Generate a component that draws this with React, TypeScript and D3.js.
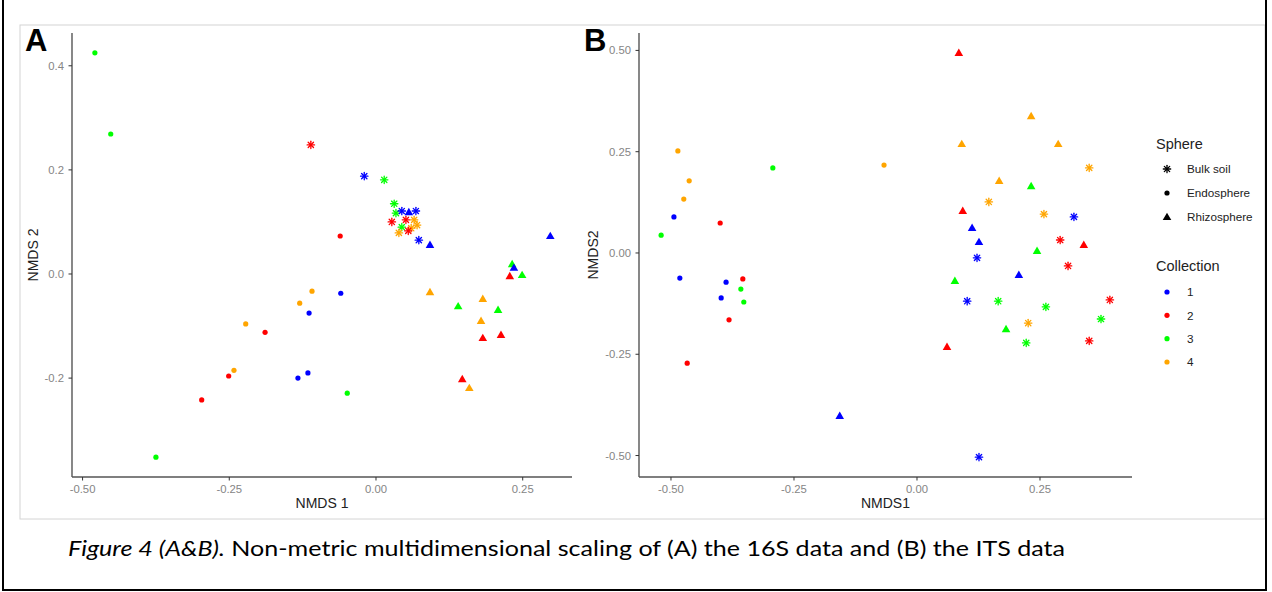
import React from 'react';
import * as d3 from 'd3';

const COLLECTIONS = ['1', '2', '3', '4'];
const COLORS = ['#0000FF', '#FF0000', '#00FF00', '#FFA500'];
const SPHERES = ['Bulk soil', 'Endosphere', 'Rhizosphere'];

// [NMDS1, NMDS2, collection index]
const A_BULK: [number, number, number][] = [
  [-0.111, 0.248, 1], [-0.02, 0.188, 0], [0.014, 0.181, 2], [0.031, 0.135, 2],
  [0.034, 0.117, 2], [0.044, 0.121, 0], [0.068, 0.121, 0], [0.027, 0.1, 1],
  [0.051, 0.104, 1], [0.065, 0.104, 3], [0.07, 0.094, 3], [0.044, 0.09, 2],
  [0.06, 0.088, 3], [0.055, 0.083, 1], [0.039, 0.079, 3], [0.073, 0.065, 0],
];
const A_ENDO: [number, number, number][] = [
  [-0.479, 0.425, 2], [-0.452, 0.269, 2], [-0.375, -0.352, 2], [-0.049, -0.229, 2],
  [-0.189, -0.112, 1], [-0.251, -0.196, 1], [-0.297, -0.242, 1], [-0.061, 0.073, 1],
  [-0.222, -0.096, 3], [-0.242, -0.185, 3], [-0.109, -0.033, 3], [-0.13, -0.056, 3],
  [-0.06, -0.037, 0], [-0.114, -0.075, 0], [-0.116, -0.19, 0], [-0.133, -0.2, 0],
];
const A_RHIZO: [number, number, number][] = [
  [0.056, 0.119, 0], [0.092, 0.056, 0], [0.297, 0.073, 0], [0.232, 0.019, 2],
  [0.235, 0.012, 0], [0.228, -0.004, 1], [0.249, -0.002, 2], [0.092, -0.035, 3],
  [0.182, -0.048, 3], [0.14, -0.062, 2], [0.208, -0.069, 2], [0.179, -0.09, 3],
  [0.182, -0.123, 1], [0.213, -0.117, 1], [0.147, -0.202, 1], [0.159, -0.219, 3],
];

const B_BULK: [number, number, number][] = [
  [0.35, 0.21, 3], [0.146, 0.126, 3], [0.258, 0.096, 3], [0.319, 0.089, 0],
  [0.291, 0.032, 1], [0.122, -0.012, 0], [0.307, -0.032, 1], [0.102, -0.119, 0],
  [0.165, -0.119, 2], [0.262, -0.133, 2], [0.392, -0.116, 1], [0.374, -0.163, 2],
  [0.226, -0.173, 3], [0.222, -0.222, 2], [0.35, -0.217, 1], [0.126, -0.504, 0],
];
const B_ENDO: [number, number, number][] = [
  [-0.486, 0.252, 3], [-0.293, 0.21, 2], [-0.067, 0.217, 3], [-0.463, 0.178, 3],
  [-0.474, 0.133, 3], [-0.494, 0.089, 0], [-0.52, 0.044, 2], [-0.4, 0.074, 1],
  [-0.482, -0.062, 0], [-0.388, -0.072, 0], [-0.354, -0.064, 1], [-0.358, -0.089, 2],
  [-0.398, -0.111, 0], [-0.352, -0.121, 2], [-0.382, -0.165, 1], [-0.467, -0.272, 1],
];
const B_RHIZO: [number, number, number][] = [
  [-0.157, -0.402, 0], [0.085, 0.494, 1], [0.232, 0.338, 3], [0.091, 0.269, 3],
  [0.287, 0.269, 3], [0.167, 0.178, 3], [0.232, 0.165, 2], [0.093, 0.104, 1],
  [0.112, 0.062, 0], [0.126, 0.027, 0], [0.339, 0.02, 1], [0.244, 0.005, 2],
  [0.207, -0.054, 0], [0.077, -0.069, 2], [0.181, -0.188, 2], [0.061, -0.232, 1],
];

const A_XTICKS = [-0.5, -0.25, 0, 0.25];
const A_XLABELS = ['-0.50', '-0.25', '0.00', '0.25'];
const A_YTICKS = [-0.2, 0, 0.2, 0.4];
const A_YLABELS = ['-0.2', '0.0', '0.2', '0.4'];
const B_XTICKS = [-0.5, -0.25, 0, 0.25];
const B_XLABELS = ['-0.50', '-0.25', '0.00', '0.25'];
const B_YTICKS = [-0.5, -0.25, 0, 0.25, 0.5];
const B_YLABELS = ['-0.50', '-0.25', '0.00', '0.25', '0.50'];

const FONT = "'Liberation Sans', Arial, sans-serif";
const triPath = d3.symbol().type(d3.symbolTriangle).size(32)() as string;

function Marker({ sphere, x, y, color }: { sphere: number; x: number; y: number; color: string }) {
  if (sphere === 0) {
    const r = 3.7;
    const d = r * 0.72;
    return (
      <g transform={`translate(${x},${y})`} stroke={color} strokeWidth={1.3} strokeLinecap="round">
        <line x1={-r} y1={0} x2={r} y2={0} />
        <line x1={0} y1={-r} x2={0} y2={r} />
        <line x1={-d} y1={-d} x2={d} y2={d} />
        <line x1={-d} y1={d} x2={d} y2={-d} />
        <circle r={1.4} fill={color} stroke="none" />
      </g>
    );
  }
  if (sphere === 1) return <circle cx={x} cy={y} r={2.6} fill={color} />;
  return <path d={triPath} transform={`translate(${x},${y + 0.6})`} fill={color} />;
}

interface PanelProps {
  label: string;
  xDomain: [number, number];
  xRange: [number, number];
  yDomain: [number, number];
  yRange: [number, number];
  xTicks: number[];
  xLabels: string[];
  yTicks: number[];
  yLabels: string[];
  xTitle: string;
  yTitle: string;
  yTitleX: number;
  labelX: number;
  data: [number, number, number][][];
}

function Panel(p: PanelProps) {
  const x = d3.scaleLinear().domain(p.xDomain).range(p.xRange);
  const y = d3.scaleLinear().domain(p.yDomain).range(p.yRange);
  const axisColor = '#555';
  const tickColor = '#858585';
  const [x0, x1] = p.xRange;
  const [yb, yt] = p.yRange;
  return (
    <g>
      <text x={p.labelX} y={51} fontFamily={FONT} fontWeight="bold" fontSize={31} fill="#000">{p.label}</text>
      <line x1={x0} y1={yt} x2={x0} y2={yb} stroke={axisColor} strokeWidth={1.4} />
      <line x1={x0} y1={yb} x2={x1} y2={yb} stroke={axisColor} strokeWidth={1.4} />
      {p.yTicks.map((t, i) => (
        <g key={'y' + i}>
          <line x1={x0 - 3.5} x2={x0} y1={y(t)} y2={y(t)} stroke="#333" strokeWidth={1} />
          <text x={x0 - 8} y={y(t)} dy="0.36em" textAnchor="end" fontFamily={FONT} fontSize={11.3} fill={tickColor}>{p.yLabels[i]}</text>
        </g>
      ))}
      {p.xTicks.map((t, i) => (
        <g key={'x' + i}>
          <line x1={x(t)} x2={x(t)} y1={yb} y2={yb + 3.5} stroke="#333" strokeWidth={1} />
          <text x={x(t)} y={yb + 15.5} textAnchor="middle" fontFamily={FONT} fontSize={11.3} fill={tickColor}>{p.xLabels[i]}</text>
        </g>
      ))}
      <text x={(x0 + x1) / 2} y={yb + 31} textAnchor="middle" fontFamily={FONT} fontSize={14} fill="#222">{p.xTitle}</text>
      <text transform={`translate(${p.yTitleX},${(yb + yt) / 2}) rotate(-90)`} textAnchor="middle" dy="0.36em" fontFamily={FONT} fontSize={14} fill="#222">{p.yTitle}</text>
      {p.data.map((arr, s) =>
        arr.map((d, i) => (
          <Marker key={s + '-' + i} sphere={s} x={x(d[0])} y={y(d[1])} color={COLORS[d[2]]} />
        ))
      )}
    </g>
  );
}

function Legend() {
  const lx = 1156;
  const symX = 1167;
  const textX = 1187;
  const sphereY = d3.scalePoint().domain(SPHERES).range([169, 217]);
  const collY = d3.scalePoint().domain(COLLECTIONS).range([292, 362]);
  return (
    <g fontFamily={FONT}>
      <text x={lx} y={149} fontSize={14.5} fill="#222">Sphere</text>
      {SPHERES.map((s, i) => (
        <g key={s}>
          <Marker sphere={i} x={symX} y={sphereY(s) as number} color="#000" />
          <text x={textX} y={sphereY(s) as number} dy="0.36em" fontSize={11.7} fill="#222">{s}</text>
        </g>
      ))}
      <text x={lx} y={271} fontSize={14.5} fill="#222">Collection</text>
      {COLLECTIONS.map((c, i) => (
        <g key={c}>
          <circle cx={symX} cy={collY(c) as number} r={2.6} fill={COLORS[i]} />
          <text x={textX} y={collY(c) as number} dy="0.36em" fontSize={11.7} fill="#222">{c}</text>
        </g>
      ))}
    </g>
  );
}

export default function App() {
  return (
    <svg width={1272} height={592} style={{ position: 'absolute', left: 0, top: 0, background: '#fff' }}>
      <rect x={0} y={0} width={1272} height={592} fill="#fff" />
      <rect x={20} y={25} width={1245} height={494} fill="#fff" stroke="#d4d4d4" strokeWidth={1} />
      <Panel
        label="A"
        xDomain={[-0.518, 0.334]} xRange={[72, 572]}
        yDomain={[-0.39, 0.463]} yRange={[477, 33]}
        xTicks={A_XTICKS} xLabels={A_XLABELS}
        yTicks={A_YTICKS} yLabels={A_YLABELS}
        xTitle="NMDS 1" yTitle="NMDS 2" yTitleX={33} labelX={25}
        data={[A_BULK, A_ENDO, A_RHIZO]}
      />
      <Panel
        label="B"
        xDomain={[-0.565, 0.437]} xRange={[639, 1132]}
        yDomain={[-0.553, 0.543]} yRange={[477, 33]}
        xTicks={B_XTICKS} xLabels={B_XLABELS}
        yTicks={B_YTICKS} yLabels={B_YLABELS}
        xTitle="NMDS1" yTitle="NMDS2" yTitleX={593} labelX={584}
        data={[B_BULK, B_ENDO, B_RHIZO]}
      />
      <Legend />
      <text x={68} y={556} fontFamily="Lato, 'Open Sans', sans-serif" fontSize={22} fill="#000" textLength={997} lengthAdjust="spacingAndGlyphs">
        <tspan fontStyle="italic">Figure 4 (A&amp;B).</tspan>
        <tspan> Non-metric multidimensional scaling of (A) the 16S data and (B) the ITS data</tspan>
      </text>
      <line x1={3} y1={0} x2={3} y2={590} stroke="#000" strokeWidth={2} />
      <line x1={2} y1={590} x2={1267} y2={590} stroke="#000" strokeWidth={2} />
      <line x1={1266} y1={0} x2={1266} y2={590} stroke="#000" strokeWidth={2} />
    </svg>
  );
}
